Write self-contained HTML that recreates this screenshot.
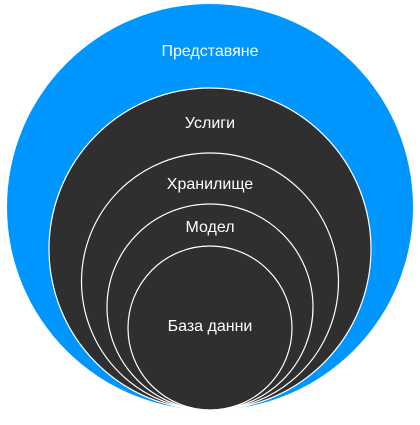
<!DOCTYPE html>
<html><head><meta charset="utf-8"><style>html,body{margin:0;padding:0;background:#fff;}</style></head>
<body>
<svg width="420" height="420" viewBox="0 0 420 420" xmlns="http://www.w3.org/2000/svg" font-family="Liberation Sans, sans-serif" font-size="16" fill="#fff">
<circle cx="210" cy="207" r="203" fill="#0096FF"/>
<circle cx="210" cy="249" r="161" fill="#2f2f2f" stroke="#fff" stroke-width="1.2"/>
<circle cx="210" cy="281.5" r="128.5" fill="#2f2f2f" stroke="#fff" stroke-width="1.2"/>
<circle cx="210" cy="307" r="103" fill="#2f2f2f" stroke="#fff" stroke-width="1.2"/>
<circle cx="210" cy="328" r="82" fill="#2f2f2f" stroke="#fff" stroke-width="1.2"/>
<g text-anchor="middle" fill="#fff">
<text x="210" y="56">Представяне</text>
<text x="210" y="128">Услиги</text>
<text x="210" y="189">Хранилище</text>
<text x="210" y="232">Модел</text>
<text x="210" y="331">База данни</text>
</g>
</svg>
</body></html>
